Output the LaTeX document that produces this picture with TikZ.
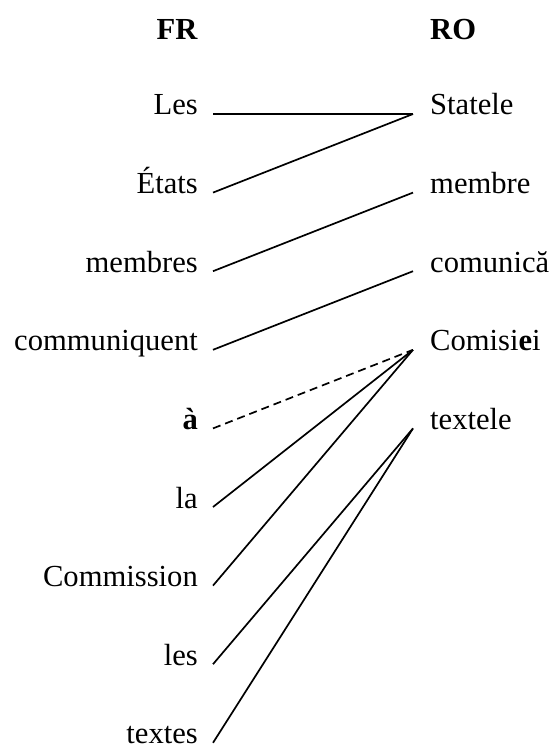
\documentclass[tikz,border=0pt]{standalone}
\usepackage{fontspec}
\setmainfont{Liberation Serif}
\begin{document}
\begin{tikzpicture}[x=1pt,y=-1pt,
  word/.style={inner sep=0pt,font=\fontsize{30.6}{36}\selectfont},
  fr/.style={word,anchor=base east},
  ro/.style={word,anchor=base west},
  link/.style={line width=1.7pt},
  weak/.style={line width=1.7pt,dash pattern=on 8pt off 5pt}]
\useasboundingbox (0,0) rectangle (551,746);
\node[fr] (hfr) at (198,40) {\textbf{FR}};
\node[ro] (hro) at (430,40) {\textbf{RO}};
\foreach \n/\t [count=\i from 0] in {f1/Les,f2/États,f3/membres,f4/communiquent,f5/\textbf{à},f6/la,f7/Commission,f8/les,f9/textes}{
  \node[fr] (\n) at (198,115+78.6*\i) {\t};
  \coordinate (\n e) at (213,114+78.6*\i);
}
\foreach \n/\t [count=\i from 0] in {r1/Statele,r2/membre,r3/comunică,r4/Comisi\textbf{e}i,r5/textele}{
  \node[ro] (\n) at (430,115+78.6*\i) {\t};
  \coordinate (\n w) at (413,114+78.6*\i);
}
\draw[link] (f1e) -- (r1w);
\draw[link] (f2e) -- (r1w);
\draw[link] (f3e) -- (r2w);
\draw[link] (f4e) -- (r3w);
\draw[weak] (f5e) -- (r4w);
\draw[link] (f6e) -- (r4w);
\draw[link] (f7e) -- (r4w);
\draw[link] (f8e) -- (r5w);
\draw[link] (f9e) -- (r5w);
\end{tikzpicture}
\end{document}
